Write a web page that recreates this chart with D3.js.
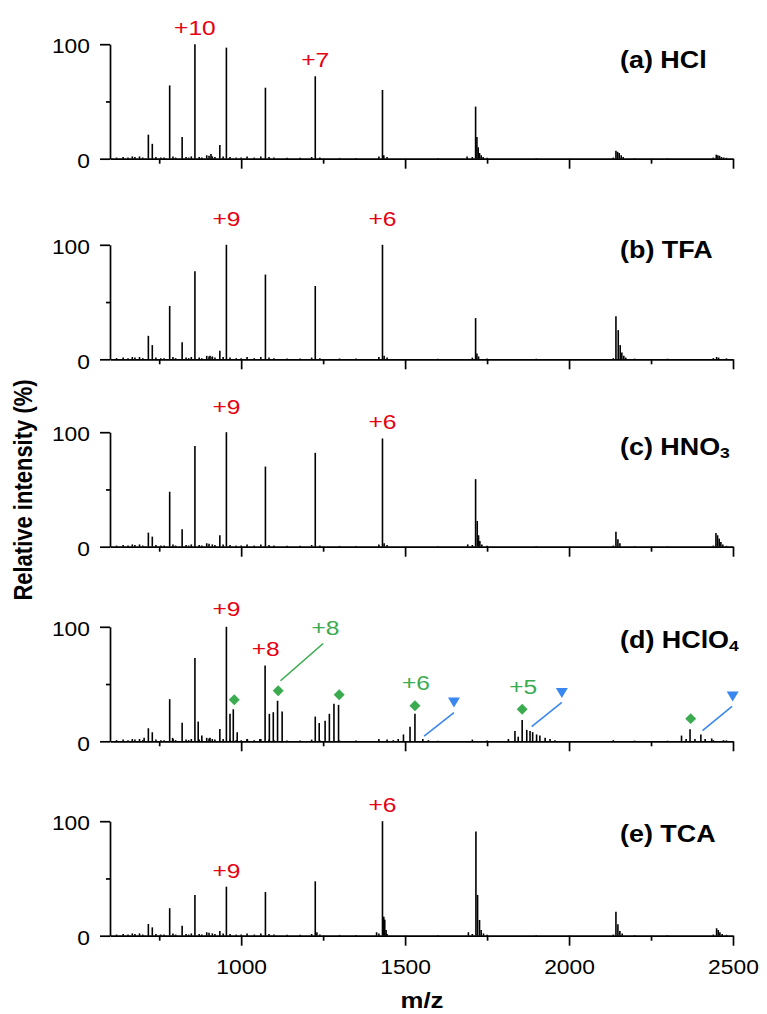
<!DOCTYPE html>
<html>
<head>
<meta charset="utf-8">
<script src="https://cdn.jsdelivr.net/npm/d3@7"></script>
<style>
  body { margin: 0; background: #fff; }
  text { font-family: Arial, "Liberation Sans", sans-serif; }
</style>
</head>
<body>
<script>
// ---- values ----
var mzRange = [600, 2500];
var xMajor = [1000, 1500, 2000, 2500];
var xMinor = [750, 1250, 1750, 2250];
var yMajor = [0, 100];
var yMinor = [50];

// panel names, [text, subscript]
var panelNames = [["(a) HCl", ""], ["(b) TFA", ""], ["(c) HNO", "3"], ["(d) HClO", "4"], ["(e) TCA", ""]];

// small bumps seen along the baseline of every spectrum [m/z, %]
var noisePeaks = [[620,1],[640,1.5],[655,1],[668,2],[676,1.5],[690,2],[700,1],[740,1.5],[755,1],[765,1],
  [792,2],[800,1],[832,1.5],[840,1],[848,2],[872,1.5],[880,1],[895,3],[902,2.5],[912,2],[920,1.5],
  [945,2],[966,1.5],[985,1],[1000,1],[1018,2],[1040,1],[1060,2],[1085,1.5],[1100,1],[1140,0.8],
  [1180,0.8],[1215,1.5],[1240,1],[1300,0.7],[1350,0.7],[1420,2],[1445,1.5],[1600,0.5],[1705,1.5],
  [1750,0.8],[1900,0.5],[2135,1],[2200,0.6],[2300,0.5],[2440,1],[2480,0.8]];

var peaksHCl = [[717,21],[729,13],[782,64],[820,19],[859,100],[908,4],[935,12],[955,97],[1074,62],
  [1226,72],[1431,60],[1435,3],[1689,2],[1715,45.5],[1719,19],[1723,10],[1727,5],[1732,3],[1738,1.5],
  [2143,7],[2148,6],[2153,5],[2159,3],[2165,1.5],[2449,3.5],[2454,3],[2459,2.5],[2465,1.5],[2472,1]];

var peaksTFA = [[717,20.5],[729,12.4],[782,46.6],[820,14.8],[859,77],[905,3],[912,2.5],[935,7.5],
  [955,100],[1074,74],[1226,64],[1431,100],[1436,3],[1715,36],[1719,5],[1724,2.5],
  [2143,37.6],[2150,25.5],[2156,12.4],[2161,6],[2167,3],[2173,1.5],[2450,2],[2456,1.5]];

var peaksHNO3 = [[717,12.3],[729,8.8],[782,48],[820,15.2],[859,88],[935,10],[955,100],[1074,70],
  [1226,82],[1431,94.5],[1436,3],[1691,2],[1715,59],[1720,22.5],[1724,10],[1728,5],[1734,2],
  [2143,13],[2149,6.5],[2155,3],[2448,12],[2453,10],[2458,7],[2463,4],[2469,2]];

var peaksHClO4 = [[704,3],[717,11.4],[729,7.9],[782,36.8],[791,3],[820,16.3],[859,72.8],[869,17.2],
  [880,5],[905,3],[935,10.8],[955,100],[966,24],[976,28],[988,7.9],[1019,2],[1057,2],[1073,66.3],
  [1086,24],[1098,25.4],[1111,35.4],[1125,26],[1226,21.6],[1238,16],[1256,18],[1269,24],[1283,32.7],
  [1297,31.8],[1464,1],[1479,2],[1495,6],[1515,12.8],[1530,24],[1554,2],[1571,1],
  [1815,2],[1835,9],[1845,4],[1857,18.7],[1871,10],[1881,9],[1889,8],[1901,6],[1911,5],[1927,3],
  [1942,2],[1957,1],[2343,5],[2357,2],[2369,10.5],[2384,2],[2402,6],[2415,2],[2435,2.5],[2471,1]];

var peaksTCA = [[717,10.2],[729,7.3],[782,24],[820,8.7],[859,35.6],[935,4],[955,42.8],[1074,38.2],
  [1226,47.5],[1231,3],[1413,3],[1431,100],[1435,16.6],[1438,14],[1442,5],
  [1693,3],[1716,91],[1721,35.6],[1727,13.7],[1732,5],[1739,2],
  [2143,21],[2149,10],[2155,4],[2162,2],[2450,6.5],[2455,5],[2460,3],[2467,1.5]];

var spectra = [peaksHCl, peaksTFA, peaksHNO3, peaksHClO4, peaksTCA];

// charge state labels [panel, text, m/z, height %]
var redLabels = [[0,"+10",859,108],[0,"+7",1226,80.4],[1,"+9",955,116.8],[1,"+6",1431,116.8],
  [2,"+9",955,115.5],[2,"+6",1431,102.4],[3,"+9",955,109.3],[3,"+8",1075,74.2],
  [4,"+9",955,50.2],[4,"+6",1431,108.4]];
var greenLabels = [[3,"+8",1257,93.2],[3,"+6",1533,45],[3,"+5",1860,41.5]];

// markers in panel (d)
var diamonds = [[979,36.2],[1113,44.1],[1299,40.6],[1530,31],[1857,28],[2371,19.8]];
var triangles = [[1649,33.9],[1978,42.1],[2499,39.1]];
var greenLeaders = [[1250,85.4,1120,52.9]];
var blueLeaders = [[1649,25.1,1558,4.6],[1978,33.9,1886,12.9],[2497,30.4,2407,9.4]];

// ---- layout ----
var width = 767, height = 1014;
var panelBase = [158.7, 359.3, 546.7, 741.3, 935.7];
var panelH = 114.5;
var nameDy = [-90.5, -101.3, -91.7, -93.3, -93.7];
var SX = 1.17;   // the original figure is a little stretched sideways
var red = "#e60012", green = "#3aab4f", blue = "#3b87f0";

var svg = d3.select("body").append("svg")
  .attr("width", width)
  .attr("height", height);

var x = d3.scaleLinear().domain(mzRange).range([110, 733]);

spectra.forEach(function (peaks, i) {
  var y = d3.scaleLinear().domain([0, 100]).range([panelBase[i], panelBase[i] - panelH]);
  var g = svg.append("g");

  g.selectAll("line.pk")
    .data(noisePeaks.concat(peaks))
    .enter()
    .append("line")
    .attr("class", "pk")
    .attr("x1", function (d) { return x(d[0]); })
    .attr("x2", function (d) { return x(d[0]); })
    .attr("y1", y(0))
    .attr("y2", function (d) { return y(d[1]); })
    .attr("stroke", "#000")
    .attr("stroke-width", 1.6);

  // x axis
  var xa = g.append("g")
    .attr("transform", "translate(0," + y(0) + ")")
    .call(d3.axisBottom(x).tickValues(xMajor).tickSize(10).tickSizeOuter(0).tickPadding(14)
      .tickFormat(i == 4 ? d3.format("d") : ""));
  g.append("g")
    .attr("transform", "translate(0," + y(0) + ")")
    .call(d3.axisBottom(x).tickValues(xMinor).tickSize(5).tickFormat(""))
    .select(".domain").remove();

  // y axis
  var ya = g.append("g")
    .attr("transform", "translate(110,0)")
    .call(d3.axisLeft(y).tickValues(yMajor).tickSize(10).tickSizeOuter(0));
  g.append("g")
    .attr("transform", "translate(110,0)")
    .call(d3.axisLeft(y).tickValues(yMinor).tickSize(4).tickFormat(""))
    .select(".domain").remove();

  g.selectAll(".domain, .tick line").attr("stroke", "#000").attr("stroke-width", 1.7);
  g.selectAll(".tick text")
    .attr("font-family", "Arial, 'Liberation Sans', sans-serif")
    .attr("font-size", 19.5)
    .attr("fill", "#000");
  xa.selectAll(".tick text").attr("transform", "scale(" + SX + ",1)");
  ya.selectAll(".tick text")
    .attr("x", 0)
    .attr("dy", "0.45em")
    .attr("transform", "translate(-20,0) scale(" + SX + ",1)");

  // panel name
  var nm = g.append("text")
    .attr("transform", "translate(620," + (panelBase[i] + nameDy[i]) + ") scale(" + SX + ",1)")
    .attr("font-size", 23)
    .attr("font-weight", "bold")
    .text(panelNames[i][0]);
  if (panelNames[i][1]) {
    nm.append("tspan").attr("font-size", 15).attr("dy", 3).text(panelNames[i][1]);
  }

  function label(list, color) {
    list.filter(function (d) { return d[0] == i; }).forEach(function (d) {
      g.append("text")
        .attr("transform", "translate(" + x(d[2]) + "," + y(d[3]) + ") scale(" + SX + ",1)")
        .attr("text-anchor", "middle")
        .attr("font-size", 21)
        .attr("fill", color)
        .text(d[1]);
    });
  }
  label(redLabels, red);
  label(greenLabels, green);

  if (i == 3) {
    g.selectAll("line.gl").data(greenLeaders).enter().append("line")
      .attr("x1", function (d) { return x(d[0]); })
      .attr("y1", function (d) { return y(d[1]); })
      .attr("x2", function (d) { return x(d[2]); })
      .attr("y2", function (d) { return y(d[3]); })
      .attr("stroke", green).attr("stroke-width", 1.6);
    g.selectAll("line.bl").data(blueLeaders).enter().append("line")
      .attr("x1", function (d) { return x(d[0]); })
      .attr("y1", function (d) { return y(d[1]); })
      .attr("x2", function (d) { return x(d[2]); })
      .attr("y2", function (d) { return y(d[3]); })
      .attr("stroke", blue).attr("stroke-width", 1.6);
    g.selectAll("path.dm").data(diamonds).enter().append("path")
      .attr("d", d3.symbol().type(d3.symbolSquare).size(60))
      .attr("transform", function (d) { return "translate(" + x(d[0]) + "," + y(d[1]) + ") rotate(45)"; })
      .attr("fill", green);
    g.selectAll("path.tr").data(triangles).enter().append("path")
      .attr("d", "M-6,-5L6,-5L0,5Z")
      .attr("transform", function (d) { return "translate(" + x(d[0]) + "," + y(d[1]) + ")"; })
      .attr("fill", blue);
  }
});

// axis titles
svg.append("text")
  .attr("transform", "translate(32,490) scale(" + SX + ",1) rotate(-90)")
  .attr("text-anchor", "middle")
  .attr("font-size", 22)
  .attr("font-weight", "bold")
  .text("Relative intensity (%)");

svg.append("text")
  .attr("transform", "translate(422,1008) scale(" + SX + ",1)")
  .attr("text-anchor", "middle")
  .attr("font-size", 22)
  .attr("font-weight", "bold")
  .text("m/z");
</script>
</body>
</html>
